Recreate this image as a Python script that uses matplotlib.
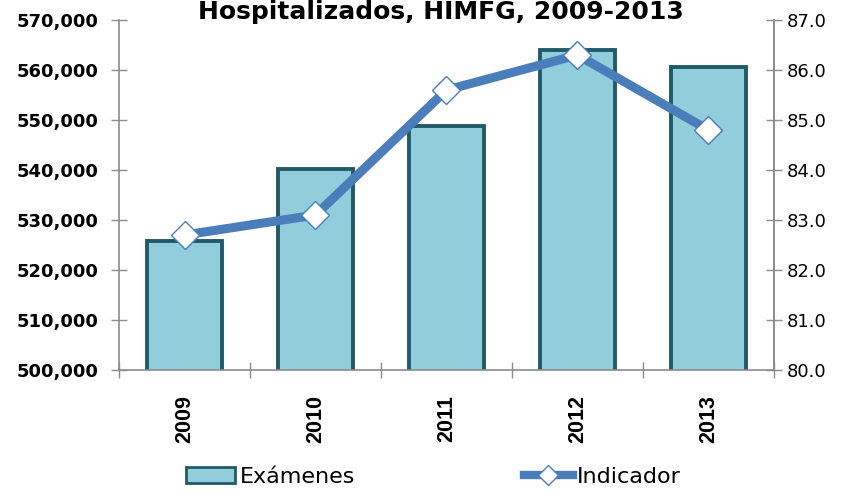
import matplotlib
matplotlib.use("Agg")
import matplotlib.pyplot as plt
from matplotlib.ticker import FuncFormatter, FixedLocator
from matplotlib.lines import Line2D
from matplotlib.patches import Patch

years = ["2009", "2010", "2011", "2012", "2013"]
examenes = [525800, 540200, 548800, 564100, 560700]
indicador = [82.7, 83.1, 85.6, 86.3, 84.8]

bar_fill = "#92CDDC"
bar_edge = "#215968"
line_col = "#4A7EBB"
grey = "#8C8C8C"

fig = plt.figure(figsize=(8.47, 4.92), dpi=100)
ax = fig.add_axes([0.1405, 0.248, 0.7733, 0.7113])
x = list(range(len(years)))
ax.bar(x, examenes, width=0.58, color=bar_fill, edgecolor=bar_edge, linewidth=2.8, zorder=2)
ax.set_ylim(500000, 570000)
ax.set_xlim(-0.5, len(years) - 0.5)
ax.set_yticks(range(500000, 570001, 10000))
ax.yaxis.set_major_formatter(FuncFormatter(lambda v, p: f"{int(v):,}"))
ax.set_xticks(x)
ax.set_xticklabels(years, rotation=90)
for lab in ax.get_xticklabels():
    lab.set_fontproperties({"family": "Liberation Sans", "weight": "bold", "size": 15.5})
ax.xaxis.set_minor_locator(FixedLocator([i - 0.5 for i in range(len(years) + 1)]))
ax.tick_params(axis="x", which="major", length=0, pad=18)
ax.tick_params(axis="x", which="minor", length=12, direction="inout", color=grey, width=1)
ax.tick_params(axis="y", length=12, direction="inout", color=grey, width=1, labelsize=13, pad=9)
for lab in ax.get_yticklabels():
    lab.set_fontweight("bold")
ax.spines["top"].set_visible(False)
for s in ["left", "bottom", "right"]:
    ax.spines[s].set_color(grey)
    ax.spines[s].set_linewidth(1.2)

ax2 = ax.twinx()
ax2.plot(x, indicador, color=line_col, linewidth=6.5, marker="D", markersize=14,
         markerfacecolor="white", markeredgecolor=line_col, markeredgewidth=1.0, zorder=3)
ax2.set_ylim(80, 87)
ax2.set_yticks([80 + i for i in range(8)])
ax2.yaxis.set_major_formatter(FuncFormatter(lambda v, p: f"{v:.1f}"))
ax2.tick_params(axis="y", length=12, direction="inout", color=grey, width=1, labelsize=13)
ax2.spines["top"].set_visible(False)
ax2.spines["right"].set_color(grey)
ax2.spines["right"].set_linewidth(1.2)
ax2.spines["left"].set_visible(False)
ax2.spines["bottom"].set_visible(False)

fig.text(0.52, 0.961, "Hospitalizados, HIMFG, 2009-2013", ha="center", va="baseline",
         fontsize=18, fontweight="bold")

handles = [Patch(facecolor=bar_fill, edgecolor=bar_edge, linewidth=2),
           Line2D([0], [0], color=line_col, linewidth=6, marker="D", markersize=10,
                  markerfacecolor="white", markeredgecolor=line_col)]
fig.legend(handles, ["Exámenes", "Indicador"], loc="lower center", ncol=2,
           bbox_to_anchor=(0.512, -0.03), frameon=False, fontsize=16,
           columnspacing=7.6, handlelength=2.2, handletextpad=0.2)

fig.savefig("out.png", dpi=100)
